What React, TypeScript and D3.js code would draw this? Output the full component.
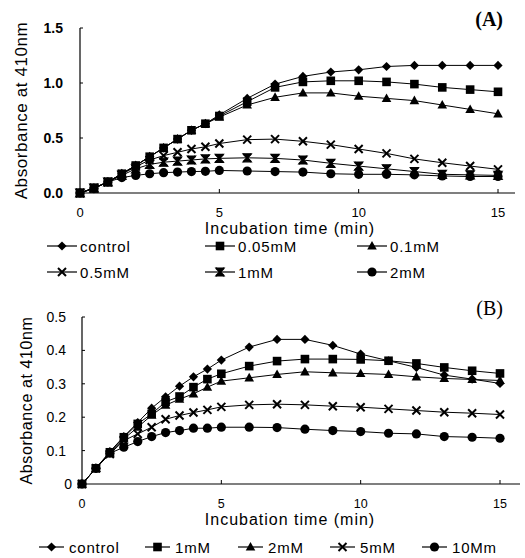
import React from "react";
import * as d3 from "d3";

// ---------- DATA ----------
const time = [0, 0.5, 1, 1.5, 2, 2.5, 3, 3.5, 4, 4.5, 5, 6, 7, 8, 9, 10, 11, 12, 13, 14, 15];

// Panel A
const aNames = ["control", "0.05mM", "0.1mM", "0.5mM", "1mM", "2mM"];
const aControl = [0, 0.045, 0.10, 0.176, 0.25, 0.33, 0.41, 0.49, 0.57, 0.63, 0.71, 0.86, 0.99, 1.06, 1.10, 1.12, 1.15, 1.16, 1.16, 1.16, 1.16];
const a005 = [0, 0.045, 0.10, 0.175, 0.25, 0.33, 0.41, 0.49, 0.57, 0.63, 0.70, 0.83, 0.96, 1.01, 1.02, 1.02, 1.01, 0.99, 0.96, 0.94, 0.92];
const a01 = [0, 0.045, 0.10, 0.175, 0.25, 0.33, 0.41, 0.49, 0.57, 0.63, 0.69, 0.80, 0.87, 0.91, 0.91, 0.88, 0.86, 0.84, 0.80, 0.76, 0.72];
const a05 = [0, 0.045, 0.10, 0.17, 0.24, 0.30, 0.34, 0.37, 0.40, 0.42, 0.45, 0.485, 0.49, 0.47, 0.44, 0.40, 0.36, 0.31, 0.275, 0.245, 0.215];
const a1 = [0, 0.045, 0.10, 0.16, 0.22, 0.26, 0.28, 0.29, 0.30, 0.31, 0.315, 0.32, 0.315, 0.30, 0.27, 0.245, 0.22, 0.195, 0.17, 0.165, 0.16];
const a2 = [0, 0.04, 0.10, 0.14, 0.16, 0.175, 0.185, 0.19, 0.195, 0.197, 0.205, 0.20, 0.195, 0.19, 0.175, 0.17, 0.17, 0.165, 0.155, 0.15, 0.15];
const aTicksY = [0, 0.5, 1.0, 1.5];
const aTickLabelsY = ["0.0", "0.5", "1.0", "1.5"];

// Panel B
const bNames = ["control", "1mM", "2mM", "5mM", "10Mm"];
const bControl = [0, 0.047, 0.097, 0.142, 0.184, 0.227, 0.261, 0.293, 0.321, 0.344, 0.371, 0.41, 0.433, 0.433, 0.415, 0.389, 0.369, 0.349, 0.326, 0.314, 0.301];
const b1 = [0, 0.047, 0.095, 0.14, 0.18, 0.21, 0.246, 0.262, 0.29, 0.314, 0.33, 0.353, 0.368, 0.374, 0.374, 0.373, 0.369, 0.361, 0.349, 0.339, 0.331];
const b2 = [0, 0.047, 0.093, 0.135, 0.17, 0.206, 0.236, 0.254, 0.27, 0.29, 0.308, 0.318, 0.328, 0.336, 0.333, 0.331, 0.328, 0.321, 0.316, 0.313, 0.31];
const b5 = [0, 0.047, 0.09, 0.13, 0.15, 0.17, 0.194, 0.205, 0.214, 0.222, 0.231, 0.237, 0.239, 0.237, 0.233, 0.23, 0.225, 0.22, 0.215, 0.212, 0.208];
const b10 = [0, 0.047, 0.092, 0.11, 0.127, 0.142, 0.154, 0.16, 0.167, 0.167, 0.17, 0.17, 0.169, 0.164, 0.16, 0.157, 0.152, 0.15, 0.142, 0.14, 0.137];
const bTicksY = [0, 0.1, 0.2, 0.3, 0.4, 0.5];
const bTickLabelsY = ["0", "0.1", "0.2", "0.3", "0.4", "0.5"];

const xTicks = [0, 5, 10, 15];

const SANS = "'Liberation Sans', Arial, sans-serif";
const SERIF = "'Liberation Serif', 'Times New Roman', serif";

type Shape = "diamond" | "square" | "triangle" | "x" | "star" | "circle";

function Marker({ shape, x, y }: { shape: Shape; x: number; y: number }) {
  const s = 4.3;
  switch (shape) {
    case "diamond":
      return <path d={`M${x},${y - 4.6}L${x + 4.6},${y}L${x},${y + 4.6}L${x - 4.6},${y}Z`} fill="#000" />;
    case "square":
      return <rect x={x - s} y={y - s} width={2 * s} height={2 * s} fill="#000" />;
    case "triangle":
      return <path d={`M${x},${y - 5}L${x + 4.8},${y + 3.6}L${x - 4.8},${y + 3.6}Z`} fill="#000" />;
    case "x":
      return (
        <path d={`M${x - 4},${y - 4}L${x + 4},${y + 4}M${x - 4},${y + 4}L${x + 4},${y - 4}`} stroke="#000" strokeWidth={2} fill="none" />
      );
    case "star":
      return (
        <g>
          <path d={`M${x - 4},${y - 4}L${x + 4},${y - 4}L${x},${y}Z M${x - 4},${y + 4}L${x + 4},${y + 4}L${x},${y}Z`} fill="#000" stroke="#000" strokeWidth={1.2} />
          <path d={`M${x - 4},${y - 4}L${x + 4},${y + 4}M${x - 4},${y + 4}L${x + 4},${y - 4}`} stroke="#000" strokeWidth={1.8} fill="none" />
        </g>
      );
    case "circle":
      return <circle cx={x} cy={y} r={4.6} fill="#000" />;
  }
  return null;
}

interface PanelProps {
  series: number[][];
  shapes: Shape[];
  yMax: number;
  x0: number;
  x1: number;
  yTop: number;
  yBottom: number;
  ticksY: number[];
  tickLabelsY: string[];
  yLabelRight: number;
  yTickFont: number;
  yTickWeight: number | string;
  xTickBaseline: number;
  xTickFont: number;
  xTitleBaseline: number;
  yTitleX: number;
  yTitleSize: number;
  axisEnd: number;
  tag: string;
  tagY: number;
  tagWeight: number | string;
}

function Panel(p: PanelProps) {
  const x = d3.scaleLinear().domain([0, 15]).range([p.x0, p.x1]);
  const y = d3.scaleLinear().domain([0, p.yMax]).range([p.yBottom, p.yTop]);
  const line = d3
    .line<number>()
    .x((_, i) => x(time[i]))
    .y((d) => y(d));
  return (
    <g>
      {/* axes */}
      <line x1={p.x0} x2={p.x0} y1={p.yTop} y2={p.yBottom} stroke="#000" strokeWidth={1.2} />
      <line x1={p.x0} x2={p.axisEnd} y1={p.yBottom} y2={p.yBottom} stroke="#000" strokeWidth={1.2} />
      {p.ticksY.map((t, i) => (
        <g key={"yt" + i}>
          <line x1={p.x0} x2={p.x0 + 3} y1={y(t)} y2={y(t)} stroke="#000" strokeWidth={1} />
          <text
            x={t === 0 && p.tickLabelsY[i] === "0" ? p.yLabelRight + 6 : p.yLabelRight}
            y={y(t) + 5}
            textAnchor="end"
            fontFamily={SANS}
            fontSize={p.yTickFont}
            fontWeight={p.yTickWeight}
          >
            {p.tickLabelsY[i]}
          </text>
        </g>
      ))}
      {xTicks.map((t) => (
        <g key={"xt" + t}>
          {t > 0 && <line x1={x(t)} x2={x(t)} y1={p.yBottom} y2={p.yBottom - 4} stroke="#000" strokeWidth={1} />}
          <text x={x(t)} y={p.xTickBaseline} textAnchor="middle" fontFamily={SANS} fontSize={p.xTickFont}>
            {t}
          </text>
        </g>
      ))}
      <text x={290} y={p.xTitleBaseline} textAnchor="middle" fontFamily={SANS} fontSize={16} letterSpacing={1}>
        Incubation time (min)
      </text>
      <text
        transform={`translate(${p.yTitleX},${(p.yTop + p.yBottom) / 2}) rotate(-90)`}
        textAnchor="middle"
        fontFamily={SANS}
        fontSize={p.yTitleSize}
        letterSpacing={0.6}
      >
        Absorbance at 410nm
      </text>
      <text x={503} y={p.tagY} textAnchor="end" fontFamily={SERIF} fontSize={20} fontWeight={p.tagWeight}>
        {p.tag}
      </text>
      {/* series */}
      {p.series.map((s, k) => (
        <g key={"s" + k}>
          <path d={line(s) || ""} fill="none" stroke="#000" strokeWidth={1} />
          {s.map((v, i) => (
            <Marker key={i} shape={p.shapes[k]} x={x(time[i])} y={y(v)} />
          ))}
        </g>
      ))}
    </g>
  );
}

function LegendItem({ x, y, len, shape, label, markerOffset, textOffset }: { x: number; y: number; len: number; shape: Shape; label: string; markerOffset: number; textOffset: number }) {
  return (
    <g>
      <line x1={x} x2={x + len} y1={y} y2={y} stroke="#000" strokeWidth={1.2} />
      <Marker shape={shape} x={x + markerOffset} y={y} />
      <text x={x + textOffset} y={y + 5.5} fontFamily={SANS} fontSize={15} letterSpacing={0.8}>
        {label}
      </text>
    </g>
  );
}

export default function App() {
  const aSeries = [aControl, a005, a01, a05, a1, a2];
  const aShapes: Shape[] = ["diamond", "square", "triangle", "x", "star", "circle"];
  const bSeries = [bControl, b1, b2, b5, b10];
  const bShapes: Shape[] = ["diamond", "square", "triangle", "x", "circle"];
  const aLegCols = [47, 205, 357];
  const aLegRows = [246, 272];
  const bLegX = [39, 145, 238, 330, 422];
  return (
    <svg width={525} height={558} style={{ position: "absolute", left: 0, top: 0, background: "#fff" }}>
      <rect width={525} height={558} fill="#fff" />
      <Panel
        series={aSeries}
        shapes={aShapes}
        yMax={1.5}
        x0={80}
        x1={498}
        yTop={28}
        yBottom={193}
        ticksY={aTicksY}
        tickLabelsY={aTickLabelsY}
        yLabelRight={63}
        yTickFont={14}
        yTickWeight="bold"
        xTickBaseline={217}
        xTickFont={13}
        xTitleBaseline={234}
        yTitleX={27}
        yTitleSize={17}
        axisEnd={515}
        tag="(A)"
        tagY={26}
        tagWeight="bold"
      />
      {aNames.map((n, i) => (
        <LegendItem
          key={n}
          x={aLegCols[i % 3]}
          y={aLegRows[Math.floor(i / 3)]}
          len={30}
          shape={aShapes[i]}
          label={n}
          markerOffset={15}
          textOffset={33}
        />
      ))}
      <Panel
        series={bSeries}
        shapes={bShapes}
        yMax={0.5}
        x0={82}
        x1={500}
        yTop={317}
        yBottom={484}
        ticksY={bTicksY}
        tickLabelsY={bTickLabelsY}
        yLabelRight={66}
        yTickFont={14}
        yTickWeight="normal"
        xTickBaseline={508}
        xTickFont={12.5}
        xTitleBaseline={525}
        yTitleX={32}
        yTitleSize={16}
        axisEnd={520}
        tag="(B)"
        tagY={315}
        tagWeight="normal"
      />
      {bNames.map((n, i) => (
        <LegendItem
          key={n}
          x={bLegX[i]}
          y={547}
          len={25}
          shape={bShapes[i]}
          label={n}
          markerOffset={12.5}
          textOffset={30}
        />
      ))}
    </svg>
  );
}
